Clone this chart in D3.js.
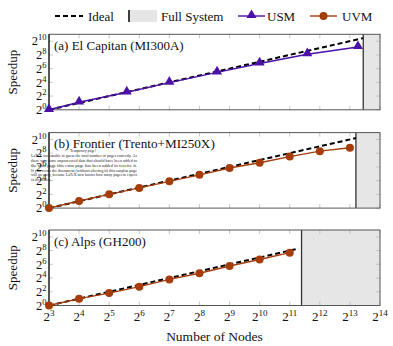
<!DOCTYPE html>
<html>
<head>
<meta charset="utf-8">
<script src="https://cdn.jsdelivr.net/npm/d3@7"></script>
<style>
  body { margin: 0; background: #fff; }
  svg { display: block; font-family: 'Liberation Serif', 'DejaVu Serif', serif; }
</style>
</head>
<body>
<svg id="chart" width="393" height="346"></svg>
<script>
'use strict';

var xTicks = [8, 16, 32, 64, 128, 256, 512, 1024, 2048, 4096, 8192, 16384];
var yTicks = [1, 4, 16, 64, 256, 1024];

var elcapNodes = [8, 16, 48, 128, 384, 1024, 3072, 9856];
var elcapUSM = [1, 2.14, 5.86, 15.5, 43.7, 107.6, 274, 568];
var elcapFull = 11136;

var frontierNodes = [8, 16, 32, 64, 128, 256, 512, 1024, 2048, 4096, 8192];
var frontierUVM = [1, 2.04, 4.0, 7.7, 14.9, 28.8, 57.7, 97, 181, 315, 446];
var frontierFull = 9408;

var alpsNodes = [8, 16, 32, 64, 128, 256, 512, 1024, 2048];
var alpsUVM = [1, 2.0, 3.5, 6.7, 13.9, 26, 53.8, 104, 208];
var alpsFull = 2688;
var alpsIdealEnd = 2520;

var panelTitles = ['(a) El Capitan (MI300A)', '(b) Frontier (Trento+MI250X)', '(c) Alps (GH200)'];

var latexNote = [
  'LaTeX was unable to guess the total number of pages correctly. As',
  'there was some unprocessed data that should have been added to',
  'the final page this extra page has been added to receive it.',
  'If you rerun the document (without altering it) this surplus page',
  'will go away, because LaTeX now knows how many pages to expect',
  'for this document.'
];

var colors = { usm: '#4a10a8', uvm: '#a53c0a' };

var panels = [
  { title: panelTitles[0], nodes: elcapNodes, speed: elcapUSM, kind: 'usm', full: elcapFull, idealEnd: elcapFull, top: 34.3, size: 13 },
  { title: panelTitles[1], nodes: frontierNodes, speed: frontierUVM, kind: 'uvm', full: frontierFull, idealEnd: frontierFull, top: 132.6, size: 13.2 },
  { title: panelTitles[2], nodes: alpsNodes, speed: alpsUVM, kind: 'uvm', full: alpsFull, idealEnd: alpsIdealEnd, top: 230, size: 13 }
];

var svg = d3.select('#chart');
var left = 49, right = 380, ph = 75.5;

var x = d3.scaleLog().base(2).domain([8, 16384]).range([left, right]);

var tri = d3.symbol().type(d3.symbolTriangle).size(44);

function powLabel(sel, v, expSize) {
  var e = Math.round(Math.log2(v));
  sel.append('tspan').text('2');
  sel.append('tspan').attr('dy', -5).style('font-size', expSize + 'px').text(e);
}

panels.forEach(function (p, pi) {
  var y = d3.scaleLog().base(2).domain([1, 2048]).range([p.top + ph, p.top]);
  var g = svg.append('g');

  // full system shade
  g.append('rect')
    .attr('x', x(p.full)).attr('y', p.top)
    .attr('width', right - x(p.full)).attr('height', ph)
    .attr('fill', '#e6e6e6');

  // inward ticks
  xTicks.forEach(function (t) {
    g.append('line').attr('x1', x(t)).attr('x2', x(t))
      .attr('y1', p.top + ph).attr('y2', p.top + ph - 4)
      .attr('stroke', '#bbb').attr('stroke-width', 0.8);
    g.append('line').attr('x1', x(t)).attr('x2', x(t))
      .attr('y1', p.top).attr('y2', p.top + 4)
      .attr('stroke', '#bbb').attr('stroke-width', 0.8);
  });
  yTicks.forEach(function (t) {
    g.append('line').attr('x1', left).attr('x2', left + 4)
      .attr('y1', y(t)).attr('y2', y(t))
      .attr('stroke', '#bbb').attr('stroke-width', 0.8);
    g.append('line').attr('x1', right).attr('x2', right - 4)
      .attr('y1', y(t)).attr('y2', y(t))
      .attr('stroke', '#bbb').attr('stroke-width', 0.8);
    var lab = g.append('text').attr('x', left - 2.5).attr('y', y(t) + 4.3)
      .attr('text-anchor', 'end').style('font-size', '12.5px').attr('fill', '#111');
    powLabel(lab, t, 8.5);
  });

  // full system line
  g.append('line').attr('x1', x(p.full)).attr('x2', x(p.full))
    .attr('y1', p.top).attr('y2', p.top + ph)
    .attr('stroke', '#333').attr('stroke-width', 1.3);

  // frame
  g.append('rect').attr('x', left).attr('y', p.top)
    .attr('width', right - left).attr('height', ph)
    .attr('fill', 'none').attr('stroke', '#555').attr('stroke-width', 1);
  g.append('line').attr('x1', left).attr('x2', left)
    .attr('y1', p.top).attr('y2', p.top + ph)
    .attr('stroke', '#111').attr('stroke-width', 1.1);

  // title
  g.append('text').attr('x', 54).attr('y', p.top + 15.5)
    .style('font-size', p.size + 'px').attr('fill', '#111').text(p.title);

  if (pi === 1) {
    var note = g.append('g').attr('fill', '#222');
    note.append('text').attr('x', 83).attr('y', p.top + 19.5)
      .attr('text-anchor', 'middle').style('font-size', '3.8px').text('Temporary page!');
    latexNote.forEach(function (s, i) {
      note.append('text').attr('x', 31).attr('y', p.top + 24.5 + i * 4.8)
        .style('font-size', '3.7px')
        .attr('textLength', i === 5 ? 20 : 106).attr('lengthAdjust', 'spacingAndGlyphs')
        .text(s);
    });
  }

  // ideal
  var line = d3.line().x(function (d) { return x(d[0]); }).y(function (d) { return y(d[1]); });
  g.append('path')
    .attr('d', line([[8, 1], [p.idealEnd, p.idealEnd / 8]]))
    .attr('stroke', '#000').attr('stroke-width', 2).attr('stroke-dasharray', '5,3')
    .attr('fill', 'none');

  var pts = p.nodes.map(function (n, i) { return [n, p.speed[i]]; });
  var c = colors[p.kind];
  g.append('path').attr('d', line(pts))
    .attr('stroke', c).attr('stroke-width', 1.4).attr('fill', 'none');
  if (p.kind === 'usm') {
    g.selectAll('path.mk').data(pts).enter().append('path').attr('class', 'mk')
      .attr('d', tri)
      .attr('transform', function (d) { return 'translate(' + x(d[0]) + ',' + (y(d[1]) - 0.8) + ')'; })
      .attr('fill', c);
  } else {
    g.selectAll('circle').data(pts).enter().append('circle')
      .attr('cx', function (d) { return x(d[0]); })
      .attr('cy', function (d) { return y(d[1]); })
      .attr('r', 4).attr('fill', c);
  }

  // y title
  g.append('text')
    .attr('transform', 'translate(16.5,' + (p.top + ph / 2) + ') rotate(-90)')
    .attr('text-anchor', 'middle').style('font-size', '13px').attr('fill', '#111')
    .text('Speedup');
});

// x tick labels under the last panel
var bottom = panels[2].top + ph;
xTicks.forEach(function (t) {
  var lab = svg.append('text').attr('x', x(t)).attr('y', bottom + 15.5)
    .attr('text-anchor', 'middle').style('font-size', '13px').attr('fill', '#111');
  powLabel(lab, t, 9);
});
svg.append('text').attr('x', (left + right) / 2).attr('y', 341)
  .attr('text-anchor', 'middle').style('font-size', '13.5px').attr('fill', '#111')
  .text('Number of Nodes');

// legend
var lg = svg.append('g').style('font-size', '13px').attr('fill', '#111');
var ly = 16;
lg.append('line').attr('x1', 55).attr('x2', 83).attr('y1', ly).attr('y2', ly)
  .attr('stroke', '#000').attr('stroke-width', 2).attr('stroke-dasharray', '5,3');
lg.append('text').attr('x', 88).attr('y', ly + 4.5).text('Ideal');
lg.append('rect').attr('x', 129).attr('y', ly - 6).attr('width', 28).attr('height', 12).attr('fill', '#e6e6e6');
lg.append('line').attr('x1', 129).attr('x2', 129).attr('y1', ly - 6).attr('y2', ly + 6)
  .attr('stroke', '#111').attr('stroke-width', 1.6);
lg.append('text').attr('x', 161).attr('y', ly + 4.5).text('Full System');
lg.append('line').attr('x1', 238).attr('x2', 265).attr('y1', ly).attr('y2', ly)
  .attr('stroke', colors.usm).attr('stroke-width', 1.4);
lg.append('path').attr('d', tri).attr('transform', 'translate(251.5,' + (ly - 0.8) + ')').attr('fill', colors.usm);
lg.append('text').attr('x', 267).attr('y', ly + 4.5).text('USM');
lg.append('line').attr('x1', 310).attr('x2', 337).attr('y1', ly).attr('y2', ly)
  .attr('stroke', colors.uvm).attr('stroke-width', 1.4);
lg.append('circle').attr('cx', 323.5).attr('cy', ly).attr('r', 4).attr('fill', colors.uvm);
lg.append('text').attr('x', 342).attr('y', ly + 4.5).text('UVM');
</script>
</body>
</html>
